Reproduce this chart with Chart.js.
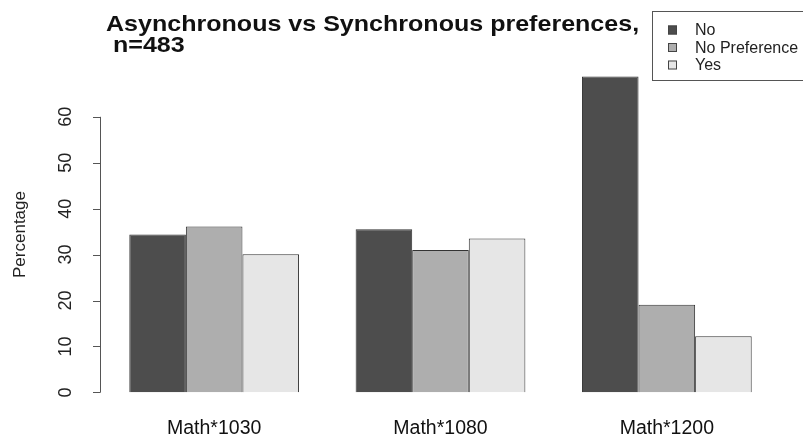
<!DOCTYPE html>
<html>
<head>
<meta charset="utf-8">
<script src="https://cdn.jsdelivr.net/npm/chart.js@4"></script>
<style>
  html, body { margin: 0; padding: 0; background: #fff; }
  #wrap { width: 803px; height: 442px; }
</style>
</head>
<body>
<div id="wrap"><canvas id="grafico" width="803" height="442"></canvas></div>
<script>
// Dados
const categorias = ['Math*1030', 'Math*1080', 'Math*1200'];
const serieNomes = ['No', 'No Preference', 'Yes'];
const valoresNo = [34.4, 35.5, 68.8];
const valoresNoPref = [36.1, 31.0, 19.1];
const valoresYes = [30.1, 33.5, 12.2];
const ticksY = [0, 10, 20, 30, 40, 50, 60];
const tituloLinhas = ['Asynchronous vs Synchronous preferences,', ' n=483'];

const cores = ['#4d4d4d', '#aeaeae', '#e6e6e6'];
const FONTE = "'Liberation Sans', Arial, Helvetica, sans-serif";

// Eixo Y no estilo R: linha só de 0 a 60, rótulos girados
const eixoR = {
    id: 'eixoR',
    afterDraw(chart) {
        const ctx = chart.ctx;
        const y = chart.scales.y;
        const x0 = chart.chartArea.left - 1;
        ctx.save();
        ctx.strokeStyle = '#555';
        ctx.lineWidth = 1;
        ctx.beginPath();
        ctx.moveTo(x0 + 0.5, y.getPixelForValue(ticksY[0]));
        ctx.lineTo(x0 + 0.5, y.getPixelForValue(ticksY[ticksY.length - 1]));
        ticksY.forEach(v => {
            const py = Math.round(y.getPixelForValue(v)) + 0.5;
            ctx.moveTo(x0 + 0.5, py);
            ctx.lineTo(x0 - 7, py);
        });
        ctx.stroke();

        ctx.fillStyle = '#222';
        ctx.font = '18px ' + FONTE;
        ctx.textAlign = 'center';
        ctx.textBaseline = 'middle';
        ticksY.forEach(v => {
            ctx.save();
            ctx.translate(66, y.getPixelForValue(v));
            ctx.rotate(-Math.PI / 2);
            ctx.fillText(String(v), 0, 0);
            ctx.restore();
        });
        ctx.restore();
    }
};

// Título e legenda desenhados na posição do original
const tituloLegenda = {
    id: 'tituloLegenda',
    afterDraw(chart) {
        const ctx = chart.ctx;
        ctx.save();
        ctx.fillStyle = '#111';
        ctx.font = 'bold 21.5px ' + FONTE;
        ctx.textAlign = 'left';
        ctx.textBaseline = 'alphabetic';
        ctx.save();
        ctx.translate(106, 0);
        ctx.scale(1.165, 1);   // o original está esticado na horizontal
        ctx.fillText(tituloLinhas[0], 0, 30.5);
        ctx.fillText(tituloLinhas[1], 0, 52);
        ctx.restore();

        // caixa da legenda (cortada na borda direita)
        ctx.fillStyle = '#fff';
        ctx.fillRect(652, 11, 160, 70);
        ctx.strokeStyle = '#555';
        ctx.lineWidth = 1;
        ctx.strokeRect(652.5, 11.5, 160, 69);

        ctx.font = '16px ' + FONTE;
        ctx.textBaseline = 'middle';
        chart.data.datasets.forEach((ds, i) => {
            const cy = 30 + i * 17.5;
            ctx.fillStyle = ds.backgroundColor;
            ctx.fillRect(668, cy - 4.5, 9, 9);
            ctx.strokeStyle = '#444';
            ctx.strokeRect(668.5, cy - 4, 8, 8);
            ctx.fillStyle = '#222';
            ctx.fillText(ds.label, 695, cy + 1);
        });
        ctx.restore();
    }
};

const ctx = document.getElementById('grafico').getContext('2d');
new Chart(ctx, {
    type: 'bar',
    data: {
        labels: categorias,
        datasets: [valoresNo, valoresNoPref, valoresYes].map((vals, i) => ({
            label: serieNomes[i],
            data: vals,
            backgroundColor: cores[i],
            borderColor: '#333',
            borderWidth: 1,
            categoryPercentage: 0.75,
            barPercentage: 1.0
        }))
    },
    options: {
        responsive: false,
        animation: false,
        layout: { padding: { left: 0, right: 23, top: 64, bottom: 0 } },
        plugins: {
            legend: { display: false },
            title: { display: false },
            tooltip: { enabled: false }
        },
        scales: {
            x: {
                grid: { display: false, drawTicks: false },
                border: { display: false },
                ticks: {
                    color: '#111',
                    padding: 12,
                    font: { family: FONTE, size: 19.5 }
                },
                afterFit(scale) { scale.height = 37; }
            },
            y: {
                min: -2.75,
                max: 71.5,
                grid: { display: false, drawTicks: false },
                border: { display: false },
                ticks: { display: false },
                title: {
                    display: true,
                    text: 'Percentage',
                    color: '#222',
                    padding: { top: 10, bottom: 0 },
                    font: { family: FONTE, size: 17 }
                },
                afterFit(scale) { scale.width = 101; }
            }
        }
    },
    plugins: [eixoR, tituloLegenda]
});
</script>
</body>
</html>
